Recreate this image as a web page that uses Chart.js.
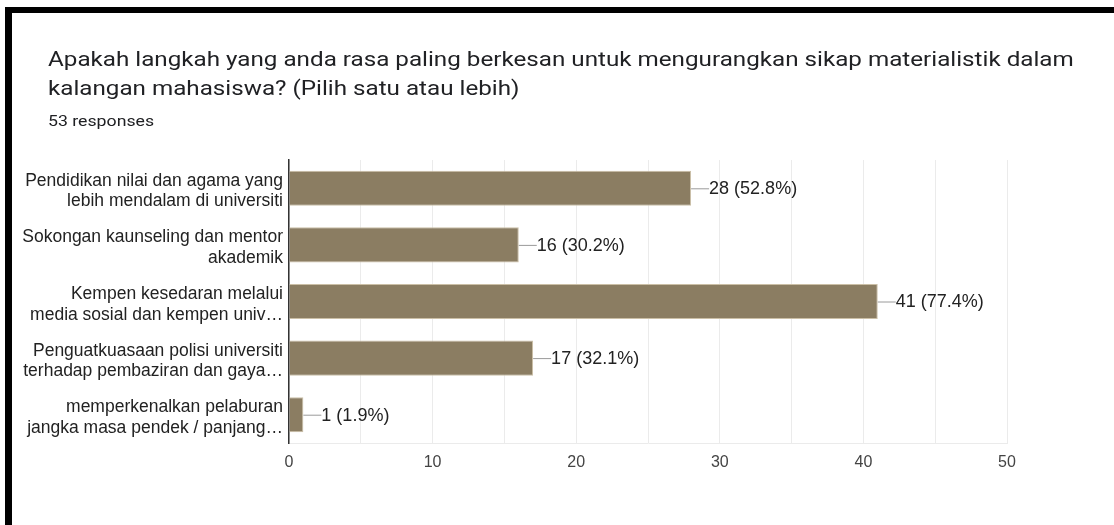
<!DOCTYPE html>
<html>
<head>
<meta charset="utf-8">
<script src="https://cdn.jsdelivr.net/npm/chart.js@4.4.1/dist/chart.umd.min.js"></script>
<style>
  html, body { margin: 0; padding: 0; background: #fff; }
  body { width: 1114px; height: 525px; position: relative; overflow: hidden; }
  #topBar { position: absolute; left: 5px; top: 7px; width: 1109px; height: 6px; background: #000; }
  #leftBar { position: absolute; left: 5px; top: 7px; width: 7px; height: 518px; background: #000; }
  #title { position: absolute; left: 48px; top: 45px; width: 1000px; font-family: Roboto, Arial, sans-serif;
           font-size: 20px; line-height: 29px; color: #202124; white-space: nowrap;
           transform: scaleX(1.21); transform-origin: 0 0; }
  #sub { position: absolute; left: 48px; top: 113px; font-family: Roboto, Arial, sans-serif;
         font-size: 14.5px; color: #202124; transform: scaleX(1.22); transform-origin: 0 0; }
  #wrap { position: absolute; left: 0; top: 0; width: 1114px; height: 525px; }
</style>
</head>
<body>
<div id="wrap"><canvas id="myChart" width="1114" height="525"></canvas></div>
<div id="topBar"></div>
<div id="leftBar"></div>
<div id="title">Apakah langkah yang anda rasa paling berkesan untuk mengurangkan sikap materialistik dalam<br>kalangan mahasiswa? (Pilih satu atau lebih)</div>
<div id="sub">53 responses</div>
<script>
var categories = [
    ["Pendidikan nilai dan agama yang", "lebih mendalam di universiti"],
    ["Sokongan kaunseling dan mentor", "akademik"],
    ["Kempen kesedaran melalui", "media sosial dan kempen univ\u2026"],
    ["Penguatkuasaan polisi universiti", "terhadap pembaziran dan gaya\u2026"],
    ["memperkenalkan pelaburan", "jangka masa pendek / panjang\u2026"]
];
var counts = [28, 16, 41, 17, 1];
var percents = ["52.8%", "30.2%", "77.4%", "32.1%", "1.9%"];
var tickValues = [0, 10, 20, 30, 40, 50];

var chartFont = "'Liberation Sans', Arial, sans-serif";

// draws the "—28 (52.8%)" labels after each bar
var valueLabels = {
    id: "valueLabels",
    afterDatasetsDraw: function(chart) {
        var ctx = chart.ctx;
        var meta = chart.getDatasetMeta(0);
        ctx.save();
        meta.data.forEach(function(bar, i) {
            var x = bar.x;
            var y = bar.y;
            ctx.strokeStyle = "#9a9a9a";
            ctx.lineWidth = 1;
            ctx.beginPath();
            ctx.moveTo(x, y + 0.5);
            ctx.lineTo(x + 18, y + 0.5);
            ctx.stroke();
            ctx.fillStyle = "#222";
            ctx.font = "18px " + chartFont;
            ctx.textBaseline = "middle";
            ctx.textAlign = "left";
            ctx.fillText(counts[i] + " (" + percents[i] + ")", x + 18, y + 1);
        });
        ctx.restore();
    }
};

new Chart("myChart", {
    type: "bar",
    data: {
        labels: categories,
        datasets: [{
            data: counts,
            backgroundColor: "#8b7d62",
            borderColor: "#cbbfa6",
            borderWidth: 1,
            borderSkipped: "left",
            barPercentage: 0.62,
            categoryPercentage: 1
        }]
    },
    plugins: [valueLabels],
    options: {
        indexAxis: "y",
        responsive: false,
        animation: false,
        layout: { padding: { left: 0, right: 107, top: 160, bottom: 42 } },
        plugins: {
            legend: { display: false },
            tooltip: { enabled: false }
        },
        scales: {
            x: {
                min: 0,
                max: 50,
                ticks: {
                    stepSize: 5,
                    autoSkip: false,
                    maxRotation: 0,
                    padding: 10,
                    color: "#444",
                    font: { family: chartFont, size: 16 },
                    callback: function(v) { return tickValues.indexOf(v) >= 0 ? v : ""; }
                },
                grid: { color: "#ebebeb", drawTicks: false },
                border: { display: true, color: "#ebebeb" },
                afterFit: function(scale) { scale.height = 40; }
            },
            y: {
                ticks: {
                    padding: 6,
                    labelOffset: 3,
                    color: "#222",
                    font: { family: chartFont, size: 17.5, lineHeight: 1.17 }
                },
                grid: { display: false, drawTicks: false },
                border: { display: true, color: "#333", width: 1.5 },
                afterFit: function(scale) { scale.width = 289; }
            }
        }
    }
});
</script>
</body>
</html>
